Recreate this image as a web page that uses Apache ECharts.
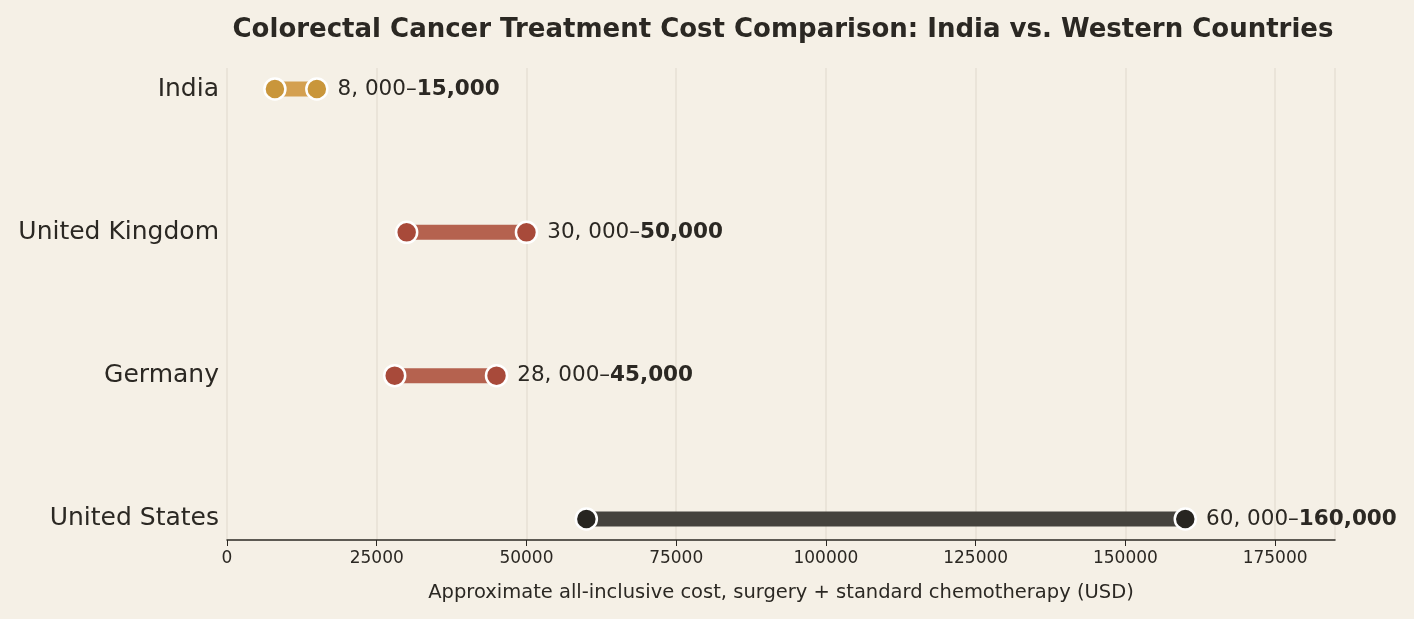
<!DOCTYPE html>
<html>
<head>
<meta charset="utf-8">
<script src="https://cdn.jsdelivr.net/npm/echarts@6/dist/echarts.min.js"></script>
<style>html,body{margin:0;background:#f5f0e6}#chart{width:1414px;height:619px}</style>
</head>
<body>
<div id="chart"></div>
<script>
const countries = ['India', 'United Kingdom', 'Germany', 'United States'];
const lowCost = [8000, 30000, 28000, 60000];
const highCost = [15000, 50000, 45000, 160000];
const lowLabels = ['8, 000–', '30, 000–', '28, 000–', '60, 000–'];
const highLabels = ['15,000', '50,000', '45,000', '160,000'];
const lineColors = ['#d4a050', '#b5624f', '#b5624f', '#45433e'];
const dotColors = ['#c9963b', '#a84a3a', '#a84a3a', '#272521'];

const series = countries.map((c, i) => ({
    type: 'line',
    name: c,
    data: [[lowCost[i], i], [highCost[i], i]],
    symbol: 'circle',
    symbolSize: 21,
    lineStyle: { color: lineColors[i], width: 15 },
    itemStyle: { color: dotColors[i], borderColor: '#fff', borderWidth: 2.5 },
    label: {
        show: true,
        position: 'right',
        distance: 9,
        formatter: p => p.dataIndex === 1 ? '{n|' + lowLabels[i] + '}{b|' + highLabels[i] + '}' : '',
        rich: {
            n: { fontSize: 21.5, color: '#2b2823', fontFamily: 'DejaVu Sans' },
            b: { fontSize: 21.5, color: '#2b2823', fontWeight: 'bold', fontFamily: 'DejaVu Sans' }
        }
    },
    z: 3
}));

const chart = echarts.init(document.getElementById('chart'));
chart.setOption({
    backgroundColor: '#f5f0e6',
    animation: false,
    title: {
        text: 'Colorectal Cancer Treatment Cost Comparison: India vs. Western Countries',
        left: 778, top: 12, textAlign: 'center',
        textStyle: { fontSize: 26, fontWeight: 'bold', color: '#2b2823', fontFamily: 'DejaVu Sans' }
    },
    grid: { left: 227, right: 79, top: 68, bottom: 79 },
    xAxis: {
        type: 'value', min: 0, max: 185000, interval: 25000,
        name: 'Approximate all-inclusive cost, surgery + standard chemotherapy (USD)',
        nameLocation: 'middle', nameGap: 43,
        nameTextStyle: { fontSize: 19.5, color: '#2b2823', fontFamily: 'DejaVu Sans' },
        axisLine: { show: true, onZero: false, lineStyle: { color: '#2b2823', width: 1.5 } },
        axisTick: { show: true, length: 6, lineStyle: { color: '#2b2823' } },
        axisLabel: { fontSize: 17, color: '#2b2823', fontFamily: 'DejaVu Sans', margin: 10, formatter: v => String(v) },
        splitLine: { show: true, lineStyle: { color: '#e6e0d4', width: 1.5 } }
    },
    yAxis: {
        type: 'value', inverse: true, min: -0.147, max: 3.147,
        axisLine: { show: false }, axisTick: { show: false }, splitLine: { show: false },
        axisLabel: {
            customValues: [0, 1, 2, 3],
            formatter: v => countries[Math.round(v)],
            fontSize: 25, color: '#2b2823', fontFamily: 'DejaVu Sans', margin: 8
        }
    },
    series
});
</script>
</body>
</html>
